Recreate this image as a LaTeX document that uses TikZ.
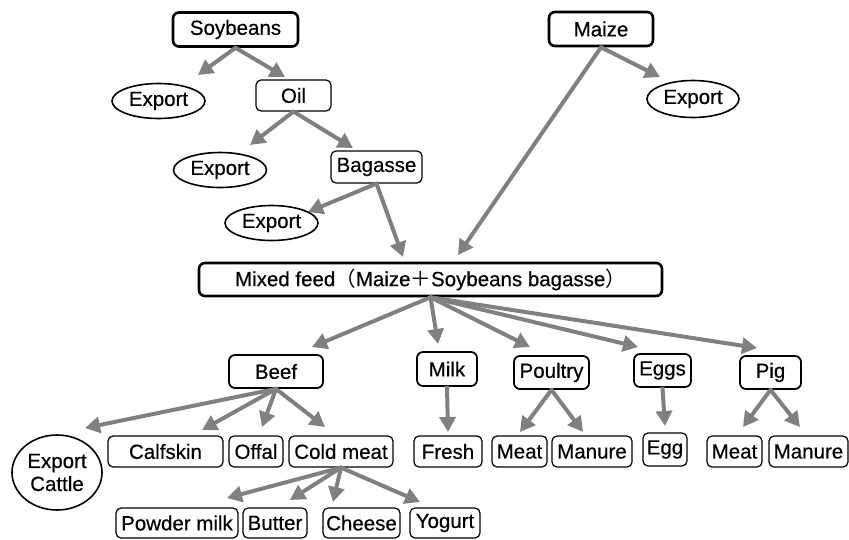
\documentclass[tikz,border=0pt]{standalone}
\usepackage{fontspec}
\setmainfont{Liberation Sans}[FakeBold=0.45]
\newfontfamily\cjk{Noto Sans CJK SC}
\usetikzlibrary{arrows.meta,shapes.geometric}
\definecolor{arrgray}{RGB}{128,128,128}
\tikzset{
  base/.style={draw=black, align=center, inner sep=0pt, font=\fontsize{20.5}{23}\selectfont},
  topbox/.style={base, rounded corners=6pt, line width=2.6pt, minimum height=34pt},
  midbox/.style={base, rounded corners=6pt, line width=1.7pt, minimum height=33pt},
  leafbox/.style={base, rounded corners=5pt, line width=1.2pt, minimum height=31pt},
  oval/.style={base, ellipse, line width=1.6pt, minimum width=93pt, minimum height=35pt},
  arr/.style={draw=arrgray, line width=4pt, -{Triangle[length=15pt,width=16pt]}, shorten <=-1pt},
}
\begin{document}
\begin{tikzpicture}[x=1pt,y=-1pt]
\useasboundingbox (0,0) rectangle (849,539);

% top level
\node[topbox, minimum width=125pt] (soy)   at (235.5,29.5) {Soybeans};
\node[topbox, minimum width=104pt] (maize) at (601,29) {Maize};

% soybean branch
\node[oval] (exp1) at (158.5,101) {Export};
\node[leafbox, minimum width=75pt] (oil) at (293.5,95.5) {Oil};
\node[oval] (exp2) at (220,170) {Export};
\node[leafbox, minimum width=91pt, minimum height=32pt] (bag) at (376.5,167) {Bagasse};
\node[oval] (exp3) at (271.5,223) {Export};
\node[oval, minimum width=92pt, minimum height=37pt] (exp4) at (693,99) {Export};

% mixed feed
\node[topbox, minimum width=463pt, minimum height=33pt] (mix) at (430.5,279.5)
  {Mixed feed{\cjk （}Maize{\cjk ＋}Soybeans bagasse{\cjk ）}};

% products
\node[midbox, minimum width=94pt] (beef)  at (276,371.5) {Beef};
\node[midbox, minimum width=60pt, minimum height=34pt] (milk) at (447,369) {Milk};
\node[midbox, minimum width=75pt] (poul)  at (551.5,372.5) {Poultry};
\node[midbox, minimum width=57pt] (eggs)  at (662.5,370.5) {Eggs};
\node[midbox, minimum width=61pt] (pig)   at (770.5,372.5) {Pig};

% beef products
\node[base, ellipse, line width=1.6pt, minimum width=90pt, minimum height=75pt] (cattle) at (57,472.5) {Export\\Cattle};
\node[leafbox, minimum width=115pt] (calf)  at (165.5,451.5) {Calfskin};
\node[leafbox, minimum width=54pt]  (offal) at (256,451.5) {Offal};
\node[leafbox, minimum width=104pt] (cold)  at (341,451.5) {Cold meat};

% dairy
\node[leafbox, minimum width=122pt, minimum height=30pt] (powder) at (177,523) {Powder milk};
\node[leafbox, minimum width=64pt, minimum height=30pt]  (butter) at (275,523) {Butter};
\node[leafbox, minimum width=77pt, minimum height=30pt]  (cheese) at (361.5,523) {Cheese};
\node[leafbox, minimum width=70pt, minimum height=30pt]  (yog)    at (445,523) {Yogurt};

% other products
\node[leafbox, minimum width=68pt] (fresh) at (448,451.5) {Fresh};
\node[leafbox, minimum width=55pt] (meat1) at (519.5,451.5) {Meat};
\node[leafbox, minimum width=80pt] (man1)  at (592,451.5) {Manure};
\node[leafbox, minimum width=44pt, minimum height=33pt] (egg) at (665,449.5) {Egg};
\node[leafbox, minimum width=55pt] (meat2) at (734.5,451.5) {Meat};
\node[leafbox, minimum width=79pt] (man2)  at (808.5,451.5) {Manure};

% arrow tips
\coordinate (t-exp1)   at (198,75);
\coordinate (t-oil)    at (285,77);
\coordinate (t-exp2)   at (250,145);
\coordinate (t-bag)    at (353,148);
\coordinate (t-exp3)   at (308,212);
\coordinate (t-mixb)   at (403,257);
\coordinate (t-mixm)   at (458,255);
\coordinate (t-exp4)   at (660,77);
\coordinate (t-beef)   at (312,347);
\coordinate (t-milk)   at (438,344);
\coordinate (t-poul)   at (530,347);
\coordinate (t-eggs)   at (638,347);
\coordinate (t-pig)    at (757,348);
\coordinate (t-cattle) at (85,428);
\coordinate (t-calf)   at (202,430);
\coordinate (t-offal)  at (262,427);
\coordinate (t-cold)   at (325,427);
\coordinate (t-powder) at (227,498);
\coordinate (t-butter) at (290,500);
\coordinate (t-cheese) at (333,502);
\coordinate (t-yog)    at (420,502);
\coordinate (t-fresh)  at (448,432);
\coordinate (t-meat1)  at (520,432);
\coordinate (t-man1)   at (583,432);
\coordinate (t-egg)    at (665,426);
\coordinate (t-meat2)  at (743,427);
\coordinate (t-man2)   at (800,427);

% connectors
\draw[arr] (soy.south) -- (t-exp1);
\draw[arr] (soy.south) -- (t-oil);
\draw[arr] (oil.south) -- (t-exp2);
\draw[arr] (oil.south) -- (t-bag);
\draw[arr] (bag.south) -- (t-exp3);
\draw[arr] (bag.south) -- (t-mixb);
\draw[arr] (maize.south) -- (t-mixm);
\draw[arr] (maize.south) -- (t-exp4);
\draw[arr] (mix.south) -- (t-beef);
\draw[arr] (mix.south) -- (t-milk);
\draw[arr] (mix.south) -- (t-poul);
\draw[arr] (mix.south) -- (t-eggs);
\draw[arr] (mix.south) -- (t-pig);
\draw[arr] (beef.south) -- (t-cattle);
\draw[arr] (beef.south) -- (t-calf);
\draw[arr] (beef.south) -- (t-offal);
\draw[arr] (beef.south) -- (t-cold);
\draw[arr] (cold.south) -- (t-powder);
\draw[arr] (cold.south) -- (t-butter);
\draw[arr] (cold.south) -- (t-cheese);
\draw[arr] (cold.south) -- (t-yog);
\draw[arr] (milk.south) -- (t-fresh);
\draw[arr] (poul.south) -- (t-meat1);
\draw[arr] (poul.south) -- (t-man1);
\draw[arr] (eggs.south) -- (t-egg);
\draw[arr] (pig.south) -- (t-meat2);
\draw[arr] (pig.south) -- (t-man2);
\end{tikzpicture}
\end{document}
